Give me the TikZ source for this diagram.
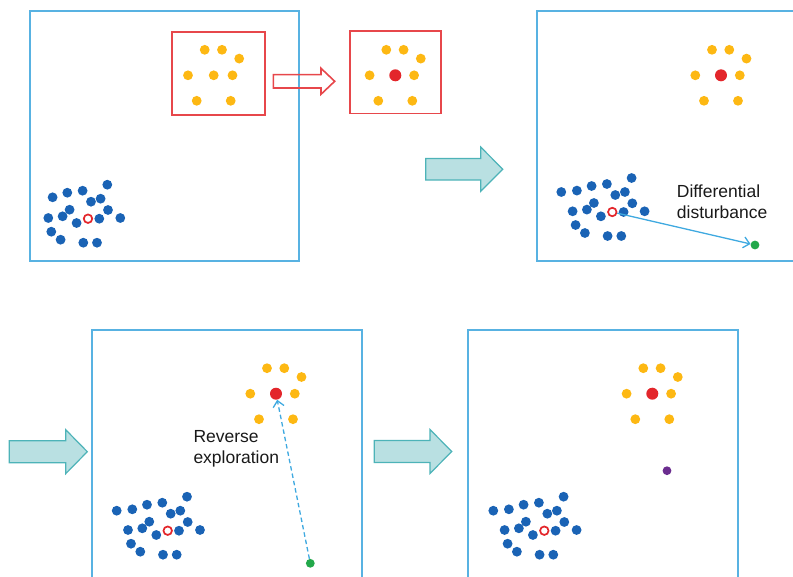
\documentclass[tikz,border=0pt]{standalone}
\usepackage{fontspec}
\setmainfont{Liberation Sans}
\usetikzlibrary{arrows.meta}
\definecolor{dotblue}{HTML}{1A63B5}
\definecolor{dotgold}{HTML}{FDB813}
\definecolor{hotred}{HTML}{E3262B}
\definecolor{panelbl}{HTML}{58B2E2}
\definecolor{linkbl}{HTML}{3FA9E0}
\definecolor{tealfill}{HTML}{B9E0E2}
\definecolor{tealedge}{HTML}{4DB3B8}
\definecolor{dotgreen}{HTML}{22A84A}
\definecolor{dotpurple}{HTML}{6B2D8F}
\tikzset{
  panel/.style={panelbl,line width=1.8pt},
  zoombox/.style={hotred!85,line width=1.6pt},
  bdot/.style={circle,fill=dotblue,inner sep=0pt,minimum size=9.8pt},
  gdot/.style={circle,fill=dotgold,inner sep=0pt,minimum size=9.8pt},
  rdot/.style={circle,fill=hotred,inner sep=0pt,minimum size=12pt},
  rring/.style={circle,draw=hotred,line width=1.7pt,fill=white,inner sep=0pt,minimum size=8.5pt},
  newdot/.style={circle,inner sep=0pt,minimum size=8.8pt},
  fatarr/.style={draw=tealedge,fill=tealfill,line width=1.2pt,line join=miter},
  thinarr/.style={draw=hotred!85,line width=1.6pt,line join=miter},
  link/.style={linkbl,line width=1.3pt,-{Straight Barb[length=6pt,width=11pt]}},
  lbl/.style={anchor=west,align=left,inner sep=0pt,text=black!90,
    font=\fontsize{17.5}{21.5}\selectfont},
}
% blue swarm offsets around the old best (ring)
\def\clusterA{19.3/-34, -35.4/-21.4, -20.7/-26, -5.4/-28, 3/-17, 12.6/-20,
  -18.4/-9, 20/-8.7, -39.7/-0.7, -25.4/-2.4, -11.4/4.3, 11.3/0, 32.3/-0.7,
  -36.7/13, -27.4/21, -4.7/24, 9/24}
\edef\clusterB{-51/-20,\clusterA}
\newcommand\bluecluster[4]{%
  \node[rring] (#1-c) at (#2,#3) {};
  \foreach \dx/\dy [count=\k] in #4
    \node[bdot] (#1-\k) at (#2+\dx,#3+\dy) {};
}
\newcommand\goldcluster[4]{%
  \node[#4] (#1-c) at (#2,#3) {};
  \foreach \dx/\dy [count=\k] in {-9/-25.5, 8.3/-25.5, 25.5/-16.7, -25.7/0,
      18.8/0, -17/25.5, 17/25.5}
    \node[gdot] (#1-\k) at (#2+\dx,#3+\dy) {};
}
% style, x0, head start, tip, y mid, half shaft, half head
\newcommand\blockarrow[7]{%
  \draw[#1] (#2,#5-#6) -- (#3,#5-#6) -- (#3,#5-#7) -- (#4,#5)
    -- (#3,#5+#7) -- (#3,#5+#6) -- (#2,#5+#6) -- cycle;
}
\begin{document}
\begin{tikzpicture}[x=1pt,y=-1pt]
  \clip (0,0) rectangle (793,576);
  % top left: whole population
  \draw[panel] (29.7,10.7) rectangle (298.7,260.7);
  \draw[zoombox] (172,31.7) rectangle (265,115);
  \goldcluster{g1}{213.7}{75.3}{gdot}
  \bluecluster{b1}{88}{218.7}{\clusterA}
  \blockarrow{thinarr}{273.3}{321}{334.7}{81.3}{6.7}{13}
  % zoomed elite group with its centre
  \draw[zoombox] (350,30.7) rectangle (441,113.3);
  \goldcluster{g0}{395.3}{75.3}{rdot}
  \blockarrow{fatarr}{425.7}{480.7}{502.7}{169.2}{10.8}{22.2}
  % top right: differential disturbance
  \draw[panel] (800,10.7) -- (537,10.7) -- (537,260.7) -- (800,260.7);
  \goldcluster{g2}{721}{75.3}{rdot}
  \bluecluster{b2}{612.3}{212}{\clusterB}
  \node[newdot,fill=dotgreen] (trial) at (755,245) {};
  \draw[link] (b2-c) -- (trial);
  \node[lbl] (difftxt) at (676.7,201.5) {Differential\\disturbance};
  % bottom left: reverse exploration
  \blockarrow{fatarr}{9.3}{65.7}{87.3}{451.7}{11}{22}
  \draw[panel] (91.7,330) rectangle (361.7,600);
  \goldcluster{g3}{276}{393.7}{rdot}
  \bluecluster{b3}{167.7}{530.7}{\clusterB}
  \node[newdot,fill=dotgreen] (probe) at (310.3,563.3) {};
  \draw[link,dashed,dash pattern=on 4.5pt off 3pt] (probe) -- (g3-c);
  \node[lbl] (revtxt) at (193.3,448.8) {Reverse\\exploration};
  % bottom right: result
  \blockarrow{fatarr}{374.3}{430}{451.7}{451.5}{11}{22}
  \draw[panel] (468,330) rectangle (738.3,600);
  \goldcluster{g4}{652.3}{393.7}{rdot}
  \bluecluster{b4}{544.3}{530.7}{\clusterB}
  \node[newdot,fill=dotpurple] (found) at (667,470.7) {};
\end{tikzpicture}
\end{document}
